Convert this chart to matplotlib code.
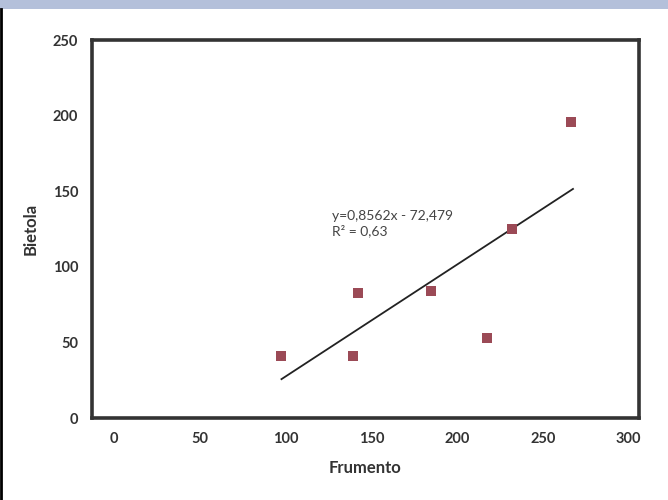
import numpy as np
import matplotlib
matplotlib.use("Agg")
import matplotlib.pyplot as plt
from matplotlib.patches import Rectangle
from matplotlib.lines import Line2D

# dati
frumento = [97, 139, 142, 184.5, 217.6, 231.8, 266.6]
bietola = [41, 41, 83, 84, 53, 125, 196]

# estremi della linea di tendenza disegnata
trend_x = [97.5, 267.5]
trend_y = [25.7, 151.5]

x_ticks = [0, 50, 100, 150, 200, 250, 300]
y_ticks = [0, 50, 100, 150, 200, 250]
equazione = "y=0,8562x - 72,479\nR² = 0,63"

plt.rcParams['font.family'] = ['Lato', 'DejaVu Sans']

fig = plt.figure(figsize=(6.68, 5.0), dpi=100)
fig.patch.set_facecolor("white")

# striscia azzurra in alto e bordo nero a sinistra
fig.add_artist(Rectangle((0, 1 - 9/500), 1, 9/500, transform=fig.transFigure,
                         facecolor="#b4c0da", edgecolor="none"))
fig.add_artist(Line2D([0.001, 0.001], [0, 1 - 9/500], transform=fig.transFigure,
                      color="black", lw=2))

ax = fig.add_axes([92/668, 82/500, 547/668, 378/500])
ax.scatter(frumento, bietola, marker="s", s=60, color="#9b4a56", zorder=3, linewidths=0)
ax.plot(trend_x, trend_y, color="#222222", lw=1.3, zorder=2)

ax.set_xlim(-13, 306)
ax.set_ylim(0, 250)
ax.set_xticks(x_ticks)
ax.set_yticks(y_ticks)
ax.tick_params(length=0, labelsize=10.5, colors="#333333", pad=10)
for lab in ax.get_xticklabels() + ax.get_yticklabels():
    lab.set_fontweight("bold")

for s in ax.spines.values():
    s.set_linewidth(2.6)
    s.set_color("#333333")

ax.set_xlabel("Frumento", fontsize=12, fontweight="bold", color="#333333", labelpad=10)
ax.set_ylabel("Bietola", fontsize=12, fontweight="bold", color="#333333", labelpad=10)

ax.text(127, 128.5, equazione, fontsize=10, color="#444444", linespacing=1.25, va="center")

fig.savefig("out.png", dpi=100)
